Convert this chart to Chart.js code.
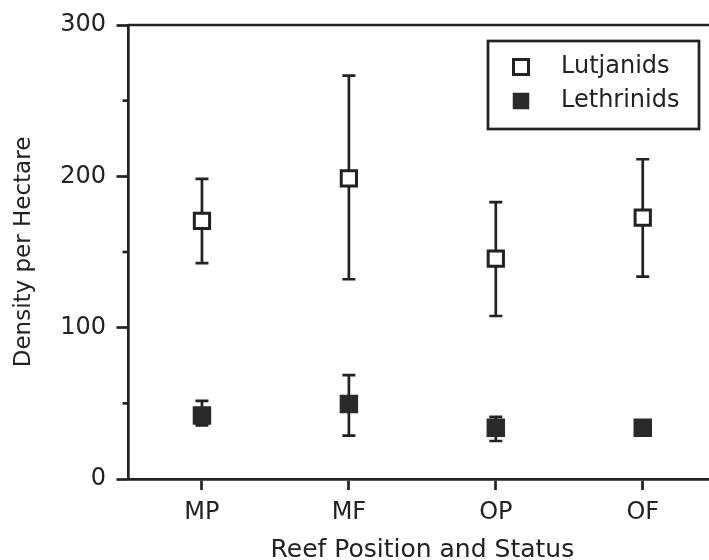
<!DOCTYPE html>
<html>
<head>
<meta charset="utf-8">
<title>Density per Hectare</title>
<script src="https://cdn.jsdelivr.net/npm/chart.js@4.4.1/dist/chart.umd.min.js"></script>
<style>
    html, body { margin: 0; padding: 0; background: #fff; }
    #wrap { width: 709px; height: 560px; overflow: hidden; }
</style>
</head>
<body>
<div id="wrap"><canvas id="densityChart" width="730" height="560"></canvas></div>
<script>
// categories and values
const categories = ['MP', 'MF', 'OP', 'OF'];
const yTicks = [0, 100, 200, 300];
const yMinorTicks = [50, 150, 250];

const lutjanids = [170.5, 198.7, 145.6, 172.7];
const lutLow = [142.6, 132, 107.7, 133.7];
const lutHigh = [198.3, 266.6, 182.9, 211.3];

const lethrinids = [42, 49.6, 33.9, 33.9];
const lethLow = [35.5, 28.6, 25.1, 30];
const lethHigh = [51.6, 68.7, 41, 38];

const ink = '#222222';

function points(values) {
    return values.map((v, i) => ({ x: i, y: v }));
}

// error bars, minor ticks, top line and the boxed legend
const extras = {
    id: 'extras',
    beforeDatasetsDraw(chart) {
        const ctx = chart.ctx;
        const x = chart.scales.x, y = chart.scales.y;
        const bars = [[lutLow, lutHigh], [lethLow, lethHigh]];
        ctx.save();
        ctx.strokeStyle = ink;
        ctx.lineWidth = 2.7;
        bars.forEach(function (pair) {
            categories.forEach(function (c, i) {
                const px = x.getPixelForValue(i);
                const lo = y.getPixelForValue(pair[0][i]);
                const hi = y.getPixelForValue(pair[1][i]);
                ctx.beginPath();
                ctx.moveTo(px, lo); ctx.lineTo(px, hi);
                ctx.moveTo(px - 6.5, lo); ctx.lineTo(px + 6.5, lo);
                ctx.moveTo(px - 6.5, hi); ctx.lineTo(px + 6.5, hi);
                ctx.stroke();
            });
        });
        ctx.restore();
    },
    afterDraw(chart) {
        const ctx = chart.ctx;
        const area = chart.chartArea;
        const y = chart.scales.y;
        ctx.save();
        ctx.strokeStyle = ink;
        ctx.lineWidth = 2.7;
        // top frame line running off the page
        ctx.beginPath();
        ctx.moveTo(area.left, area.top);
        ctx.lineTo(chart.width, area.top);
        ctx.stroke();
        // short minor ticks
        yMinorTicks.forEach(function (v) {
            const py = y.getPixelForValue(v);
            ctx.beginPath();
            ctx.moveTo(area.left - 6, py);
            ctx.lineTo(area.left, py);
            ctx.stroke();
        });

        // legend box
        const bx = 488, by = 41, bw = 211, bh = 88;
        ctx.strokeRect(bx, by, bw, bh);
        ctx.font = '24px "DejaVu Sans"';
        ctx.textBaseline = 'middle';
        ctx.textAlign = 'left';
        chart.data.datasets.forEach(function (ds, k) {
            const cy = 67 + k * 34;
            const cx = 521;
            ctx.fillStyle = ds.backgroundColor;
            ctx.strokeStyle = ds.borderColor;
            ctx.lineWidth = ds.borderWidth;
            ctx.fillRect(cx - 7.5, cy - 7.5, 15, 15);
            ctx.strokeRect(cx - 7.5, cy - 7.5, 15, 15);
            ctx.fillStyle = ink;
            ctx.fillText(ds.label, 561, cy);
        });
        ctx.restore();
    }
};

const ctx = document.getElementById('densityChart').getContext('2d');
new Chart(ctx, {
    type: 'scatter',
    data: {
        datasets: [{
            label: 'Lutjanids',
            data: points(lutjanids),
            pointStyle: 'rect',
            pointRadius: 10.8,
            pointHoverRadius: 10.8,
            backgroundColor: '#ffffff',
            borderColor: ink,
            borderWidth: 3
        }, {
            label: 'Lethrinids',
            data: points(lethrinids),
            pointStyle: 'rect',
            pointRadius: 12,
            pointHoverRadius: 12,
            backgroundColor: '#2a2a2a',
            borderColor: '#2a2a2a',
            borderWidth: 1.5
        }]
    },
    options: {
        responsive: false,
        animation: false,
        devicePixelRatio: 1,
        layout: { padding: { top: 25, right: 10, left: 0, bottom: 0 } },
        plugins: {
            legend: { display: false },
            tooltip: { enabled: false }
        },
        scales: {
            x: {
                type: 'linear',
                min: -0.5,
                max: 3.5,
                afterBuildTicks: function (scale) {
                    scale.ticks = categories.map((c, i) => ({ value: i }));
                },
                afterFit: function (scale) { scale.height = 81; },
                ticks: {
                    callback: v => categories[v],
                    color: ink,
                    font: { family: 'DejaVu Sans', size: 24 },
                    padding: 8,
                    maxRotation: 0
                },
                grid: {
                    drawOnChartArea: false,
                    tickLength: 11,
                    tickColor: ink,
                    tickWidth: 2.7
                },
                border: { color: ink, width: 2.7 },
                title: {
                    display: true,
                    text: 'Reef Position and Status',
                    color: ink,
                    font: { family: 'DejaVu Sans', size: 25, lineHeight: 0.8 },
                    padding: { top: 0, bottom: 0 }
                }
            },
            y: {
                min: 0,
                max: 300,
                afterBuildTicks: function (scale) {
                    scale.ticks = yTicks.map(v => ({ value: v }));
                },
                afterFit: function (scale) { scale.width = 128.5; },
                ticks: {
                    color: ink,
                    font: { family: 'DejaVu Sans', size: 24 },
                    padding: 10.5
                },
                grid: {
                    drawOnChartArea: false,
                    tickLength: 12,
                    tickColor: ink,
                    tickWidth: 2.7
                },
                border: { color: ink, width: 2.7 },
                title: {
                    display: true,
                    text: 'Density per Hectare',
                    color: ink,
                    font: { family: 'DejaVu Sans', size: 23 },
                    padding: { top: 10, bottom: 0 }
                }
            }
        }
    },
    plugins: [extras]
});
</script>
</body>
</html>
